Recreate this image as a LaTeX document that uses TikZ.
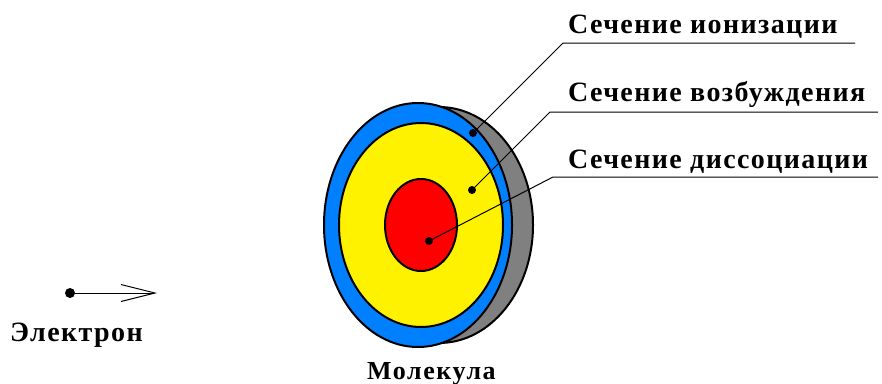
\documentclass[tikz,border=0pt]{standalone}
\usepackage{fontspec}
\setmainfont{Liberation Serif}
\usetikzlibrary{arrows.meta}
\definecolor{ringblue}{RGB}{0,128,255}
\definecolor{discgray}{RGB}{128,128,128}
\tikzset{
  zone/.style={draw=black, line width=2pt},
  leader/.style={draw=black, line width=1pt},
  dotmark/.style={circle, fill=black, inner sep=0pt, minimum size=8pt},
  label/.style={font=\fontsize{28}{32}\selectfont\bfseries\addfontfeatures{LetterSpace=5}, inner sep=0pt},
  smalllabel/.style={font=\fontsize{26}{30}\selectfont\bfseries\addfontfeatures{LetterSpace=6}, inner sep=0pt},
}
\begin{document}
\begin{tikzpicture}[x=1pt, y=-1pt]
  \useasboundingbox (0,0) rectangle (882,383);
  % molecule: rear rim, outer ring, middle zone, core
  \draw[zone, fill=discgray] (439,225) ellipse [x radius=94, y radius=118];
  \draw[zone, fill=ringblue] (418,225) ellipse [x radius=94, y radius=122];
  \draw[zone, fill=yellow] (421,225) ellipse [x radius=82, y radius=102];
  \draw[zone, fill=red] (421,225) ellipse [x radius=36, y radius=46];
  % marker dots
  \node[dotmark] (ion) at (473,133) {};
  \node[dotmark] (exc) at (472,190) {};
  \node[dotmark] (dis) at (429,241) {};
  % leader bends and ends
  \coordinate (ionK) at (563,43);  \coordinate (ionE) at (855,43);
  \coordinate (excK) at (550,112); \coordinate (excE) at (878,112);
  \coordinate (disK) at (553,177); \coordinate (disE) at (878,177);
  \draw[leader] (ion.center) -- (ionK) -- (ionE);
  \draw[leader] (exc.center) -- (excK) -- (excE);
  \draw[leader] (dis.center) -- (disK) -- (disE);
  % labels
  \node[label, anchor=base west] (tion) at (568,33) {Сечение ионизации};
  \node[label, anchor=base west] (texc) at (568,101) {Сечение возбуждения};
  \node[label, anchor=base west] (tdis) at (568,168) {Сечение диссоциации};
  % electron
  \node[dotmark, minimum size=10pt] (el) at (70,293) {};
  \coordinate (eltip) at (157,293);
  \draw[leader, -{Straight Barb[length=34pt, width=17pt, line width=1pt]}] (el.center) -- (eltip);
  \node[label, anchor=base west] (tel) at (10,341) {Электрон};
  \node[smalllabel, anchor=base west] (tmol) at (367,379) {Молекула};
\end{tikzpicture}
\end{document}
